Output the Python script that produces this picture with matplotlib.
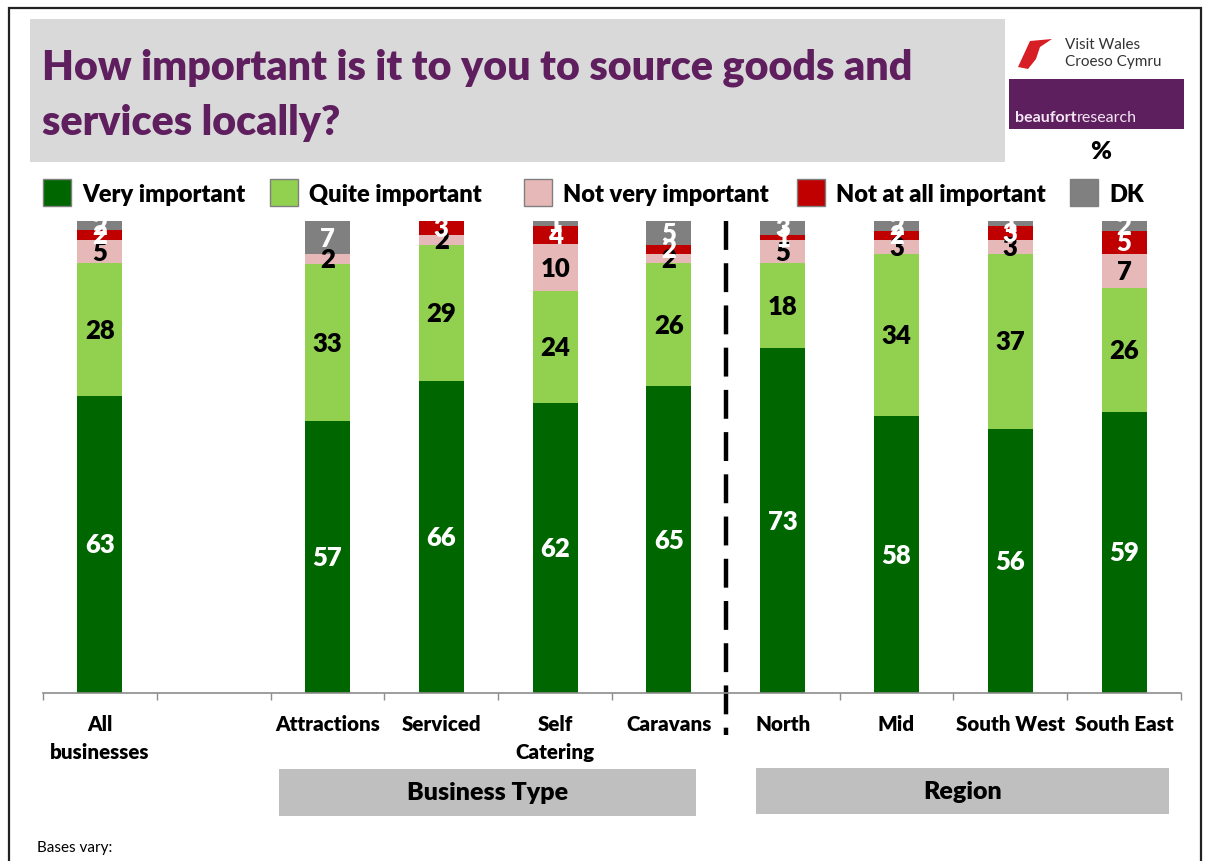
"""Stacked 100% bars: importance of sourcing goods and services locally."""

import matplotlib.pyplot as plt
from matplotlib.lines import Line2D
from matplotlib.patches import Polygon, Rectangle

plt.rcParams["font.family"] = ["Lato", "DejaVu Sans"]

W, H = 1205, 862

CATEGORIES = ["All\nbusinesses", "", "Attractions", "Serviced", "Self\nCatering",
              "Caravans", "North", "Mid", "South West", "South East"]
SERIES = ["Very important", "Quite important", "Not very important",
          "Not at all important", "DK"]

VERY = [63, None, 57, 66, 62, 65, 73, 58, 56, 59]
QUITE = [28, None, 33, 29, 24, 26, 18, 34, 37, 26]
NOT_VERY = [5, None, 2, 2, 10, 2, 5, 3, 3, 7]
NOT_AT_ALL = [2, None, 0, 3, 4, 2, 1, 2, 3, 5]
DK = [2, None, 7, 0, 1, 5, 3, 2, 1, 2]

COLORS = ["#006600", "#92d050", "#e6b9b8", "#c00000", "#808080"]
LABEL_COLORS = ["white", "black", "black", "white", "white"]

GROUPS = [("Business Type", 279, 696, 770, 817), ("Region", 756, 1169, 769, 815)]

BOLD = 800


def fx(x):
    return x / W


def fy(y):
    return 1 - y / H


fig = plt.figure(figsize=(W / 100, H / 100), dpi=100)

# outer frame and title panel
fig.patches.append(Rectangle((fx(9), fy(868)), fx(1201) - fx(9), fy(9) - fy(868),
                             transform=fig.transFigure, fill=False,
                             edgecolor="#222222", linewidth=1.6))
fig.patches.append(Rectangle((fx(30), fy(163)), fx(1005) - fx(30), fy(20) - fy(163),
                             transform=fig.transFigure, facecolor="#d9d9d9",
                             edgecolor="none"))
fig.text(fx(42), fy(68), "How important is it to you to source goods and",
         fontsize=29.7, fontweight=BOLD, color="#5f1f5f", va="center")
fig.text(fx(42), fy(123), "services locally?",
         fontsize=29.7, fontweight=BOLD, color="#5f1f5f", va="center")

# logos
fig.patches.append(Polygon([(fx(1018), fy(68)), (fx(1030), fy(42)), (fx(1052), fy(40)),
                            (fx(1040), fy(48)), (fx(1036), fy(60)), (fx(1028), fy(70))],
                           closed=True, transform=fig.transFigure,
                           facecolor="#d81e25", edgecolor="none"))
fig.text(fx(1065), fy(45), "Visit Wales", fontsize=11, color="#333333", va="center")
fig.text(fx(1065), fy(62), "Croeso Cymru", fontsize=11, color="#333333", va="center")
fig.patches.append(Rectangle((fx(1009), fy(130)), fx(1184) - fx(1009), fy(80) - fy(130),
                             transform=fig.transFigure, facecolor="#5e1f5e",
                             edgecolor="none"))
fig.text(fx(1015), fy(118), "beaufort", fontsize=11.5, fontweight="bold",
         color="#f3e6f3", va="center")
fig.text(fx(1077), fy(118), "research", fontsize=11.5, color="#f3e6f3", va="center")
fig.text(fx(1101), fy(152), "%", fontsize=18, fontweight=BOLD, ha="center",
         va="center")

# legend row
for name, color, x0 in zip(SERIES, COLORS, [43, 270, 524, 797, 1070]):
    fig.patches.append(Rectangle((fx(x0), fy(207)), fx(28), fy(180) - fy(207),
                                 transform=fig.transFigure, facecolor=color,
                                 edgecolor="#7f7f7f", linewidth=1))
    fig.text(fx(x0 + 39), fy(195), name, fontsize=17, fontweight=BOLD,
             va="center")

ax = fig.add_axes([fx(43), fy(694), fx(1181) - fx(43), fy(222) - fy(694)])

values = [VERY, QUITE, NOT_VERY, NOT_AT_ALL, DK]
for i, cat in enumerate(CATEGORIES):
    if VERY[i] is None:
        continue
    total = sum(series[i] for series in values)
    bottom = 0
    for series, color, lc in zip(values, COLORS, LABEL_COLORS):
        v = series[i]
        h = v / total * 100
        ax.bar(i, h, bottom=bottom, width=0.395, color=color, edgecolor="none")
        if v > 0:
            ax.text(i, bottom + h / 2, str(v), ha="center", va="center",
                    fontsize=18.5, fontweight=BOLD, color=lc)
        bottom += h

ax.set_xlim(-0.5, len(CATEGORIES) - 0.5)
ax.set_ylim(0, 100)
ax.set_yticks([])
for side in ["top", "right", "left"]:
    ax.spines[side].set_visible(False)
ax.spines["bottom"].set_color("#8c8c8c")
ax.spines["bottom"].set_linewidth(1.2)
ax.set_xticks([i - 0.5 for i in range(len(CATEGORIES) + 1)])
ax.set_xticklabels([])
ax.tick_params(axis="x", length=5, color="#8c8c8c", width=1)

for i, cat in enumerate(CATEGORIES):
    ax.text(i, -4.5, cat, ha="center", va="top", fontsize=14.8, fontweight=BOLD,
            linespacing=1.55)

# divider between business type and region
ax.add_line(Line2D([5.5, 5.5], [100, -9], color="black", linewidth=3.2,
                   linestyle=(0, (6.5, 3)), clip_on=False))

for name, x0, x1, y0, y1 in GROUPS:
    fig.patches.append(Rectangle((fx(x0), fy(y1)), fx(x1) - fx(x0), fy(y0) - fy(y1),
                                 transform=fig.transFigure, facecolor="#bfbfbf",
                                 edgecolor="none"))
    fig.text(fx((x0 + x1) / 2), fy((y0 + y1) / 2), name, ha="center", va="center",
             fontsize=18, fontweight=BOLD)

fig.text(fx(37), fy(848), "Bases vary:", fontsize=11, va="center")

fig.savefig("out.png", dpi=100)
